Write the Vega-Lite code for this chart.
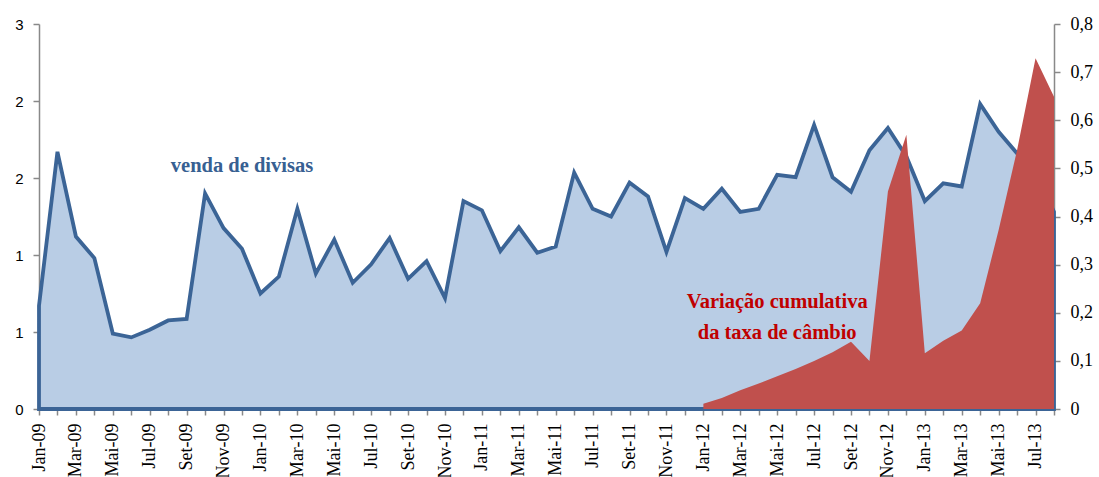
{
  "$schema": "https://vega.github.io/schema/vega-lite/v6.json",
  "width": 1015,
  "height": 385,
  "autosize": {"type": "none"},
  "padding": {"left": 39, "top": 24, "right": 45, "bottom": 68},
  "background": "white",
  "config": {
    "view": {"stroke": null},
    "axis": {"grid": false, "domainColor": "#898989", "tickColor": "#898989", "labelColor": "#000000", "title": null, "domainWidth": 1.5, "tickWidth": 1.5}
  },
  "data": {
    "values": [
      {"month": "Jan-09", "venda": 0.67, "cambio": null},
      {"month": "Fev-09", "venda": 1.67, "cambio": null},
      {"month": "Mar-09", "venda": 1.12, "cambio": null},
      {"month": "Abr-09", "venda": 0.98, "cambio": null},
      {"month": "Mai-09", "venda": 0.49, "cambio": null},
      {"month": "Jun-09", "venda": 0.465, "cambio": null},
      {"month": "Jul-09", "venda": 0.515, "cambio": null},
      {"month": "Ago-09", "venda": 0.575, "cambio": null},
      {"month": "Set-09", "venda": 0.585, "cambio": null},
      {"month": "Out-09", "venda": 1.40, "cambio": null},
      {"month": "Nov-09", "venda": 1.175, "cambio": null},
      {"month": "Dez-09", "venda": 1.04, "cambio": null},
      {"month": "Jan-10", "venda": 0.75, "cambio": null},
      {"month": "Fev-10", "venda": 0.86, "cambio": null},
      {"month": "Mar-10", "venda": 1.30, "cambio": null},
      {"month": "Abr-10", "venda": 0.88, "cambio": null},
      {"month": "Mai-10", "venda": 1.10, "cambio": null},
      {"month": "Jun-10", "venda": 0.82, "cambio": null},
      {"month": "Jul-10", "venda": 0.94, "cambio": null},
      {"month": "Ago-10", "venda": 1.11, "cambio": null},
      {"month": "Set-10", "venda": 0.845, "cambio": null},
      {"month": "Out-10", "venda": 0.96, "cambio": null},
      {"month": "Nov-10", "venda": 0.72, "cambio": null},
      {"month": "Dez-10", "venda": 1.35, "cambio": null},
      {"month": "Jan-11", "venda": 1.29, "cambio": null},
      {"month": "Fev-11", "venda": 1.025, "cambio": null},
      {"month": "Mar-11", "venda": 1.18, "cambio": null},
      {"month": "Abr-11", "venda": 1.015, "cambio": null},
      {"month": "Mai-11", "venda": 1.055, "cambio": null},
      {"month": "Jun-11", "venda": 1.535, "cambio": null},
      {"month": "Jul-11", "venda": 1.30, "cambio": null},
      {"month": "Ago-11", "venda": 1.25, "cambio": null},
      {"month": "Set-11", "venda": 1.47, "cambio": null},
      {"month": "Out-11", "venda": 1.38, "cambio": null},
      {"month": "Nov-11", "venda": 1.02, "cambio": null},
      {"month": "Dez-11", "venda": 1.37, "cambio": null},
      {"month": "Jan-12", "venda": 1.30, "cambio": 0.011},
      {"month": "Fev-12", "venda": 1.43, "cambio": 0.023},
      {"month": "Mar-12", "venda": 1.28, "cambio": 0.039},
      {"month": "Abr-12", "venda": 1.30, "cambio": 0.053},
      {"month": "Mai-12", "venda": 1.52, "cambio": 0.068},
      {"month": "Jun-12", "venda": 1.505, "cambio": 0.083},
      {"month": "Jul-12", "venda": 1.845, "cambio": 0.100},
      {"month": "Ago-12", "venda": 1.505, "cambio": 0.118},
      {"month": "Set-12", "venda": 1.41, "cambio": 0.140},
      {"month": "Out-12", "venda": 1.68, "cambio": 0.100},
      {"month": "Nov-12", "venda": 1.825, "cambio": 0.452},
      {"month": "Dez-12", "venda": 1.64, "cambio": 0.570},
      {"month": "Jan-13", "venda": 1.35, "cambio": 0.116},
      {"month": "Fev-13", "venda": 1.465, "cambio": 0.142},
      {"month": "Mar-13", "venda": 1.445, "cambio": 0.163},
      {"month": "Abr-13", "venda": 1.98, "cambio": 0.220},
      {"month": "Mai-13", "venda": 1.80, "cambio": 0.372},
      {"month": "Jun-13", "venda": 1.66, "cambio": 0.538},
      {"month": "Jul-13", "venda": 1.55, "cambio": 0.729},
      {"month": "Ago-13", "venda": 1.28, "cambio": 0.649}
    ]
  },
  "encoding": {
    "x": {
      "field": "month",
      "type": "ordinal",
      "sort": null,
      "scale": {"type": "point", "padding": 0},
      "axis": {
        "labelAngle": 270,
        "labelFont": "Liberation Serif",
        "labelFontSize": 18,
        "labelPadding": 8,
        "tickSize": 6,
        "labelOverlap": false,
        "labelExpr": "indexof(['Jan','Mar','Mai','Jul','Set','Nov'], slice(datum.label, 0, 3)) >= 0 ? datum.label : ''"
      }
    }
  },
  "layer": [
    {
      "layer": [
        {
          "mark": {"type": "area", "fill": "#B9CDE5", "stroke": "#3B6496", "strokeWidth": 3.8, "strokeJoin": "miter"},
          "encoding": {
            "y": {
              "field": "venda",
              "type": "quantitative",
              "scale": {"domain": [0, 2.5], "nice": false},
              "axis": {
                "orient": "left",
                "values": [0, 0.5, 1, 1.5, 2, 2.5],
                "labelExpr": "'' + ceil(datum.value)",
                "labelFont": "Liberation Sans",
                "labelFontSize": 15,
                "tickSize": 6,
                "labelPadding": 10
              }
            }
          }
        },
        {
          "data": {"values": [{"label": "venda de divisas", "month": "Dez-09", "venda": 1.58}]},
          "mark": {"type": "text", "font": "Liberation Serif", "fontWeight": "bold", "fontSize": 20.5, "color": "#376092", "align": "center", "baseline": "middle"},
          "encoding": {
            "x": {"field": "month", "type": "ordinal"},
            "y": {"field": "venda", "type": "quantitative"},
            "text": {"field": "label"}
          }
        },
        {
          "data": {"values": [{"label": "Variação cumulativa|da taxa de câmbio", "month": "Mai-12", "venda": 0.692}]},
          "mark": {"type": "text", "font": "Liberation Serif", "fontWeight": "bold", "fontSize": 20.5, "color": "#C00000", "align": "center", "baseline": "middle", "lineBreak": "|", "lineHeight": 31},
          "encoding": {
            "x": {"field": "month", "type": "ordinal"},
            "y": {"field": "venda", "type": "quantitative"},
            "text": {"field": "label"}
          }
        }
      ]
    },
    {
      "mark": {"type": "area", "color": "#C0504D"},
      "encoding": {
        "y": {
          "field": "cambio",
          "type": "quantitative",
          "scale": {"domain": [0, 0.8], "nice": false},
          "axis": {
            "orient": "right",
            "values": [0, 0.1, 0.2, 0.3, 0.4, 0.5, 0.6, 0.7, 0.8],
            "labelExpr": "datum.value == 0 ? '0' : replace(format(datum.value, '.1f'), '.', ',')",
            "labelFont": "Liberation Serif",
            "labelFontSize": 18,
            "tickSize": 6,
            "labelPadding": 10
          }
        }
      }
    }
  ],
  "resolve": {"scale": {"y": "independent"}}
}
